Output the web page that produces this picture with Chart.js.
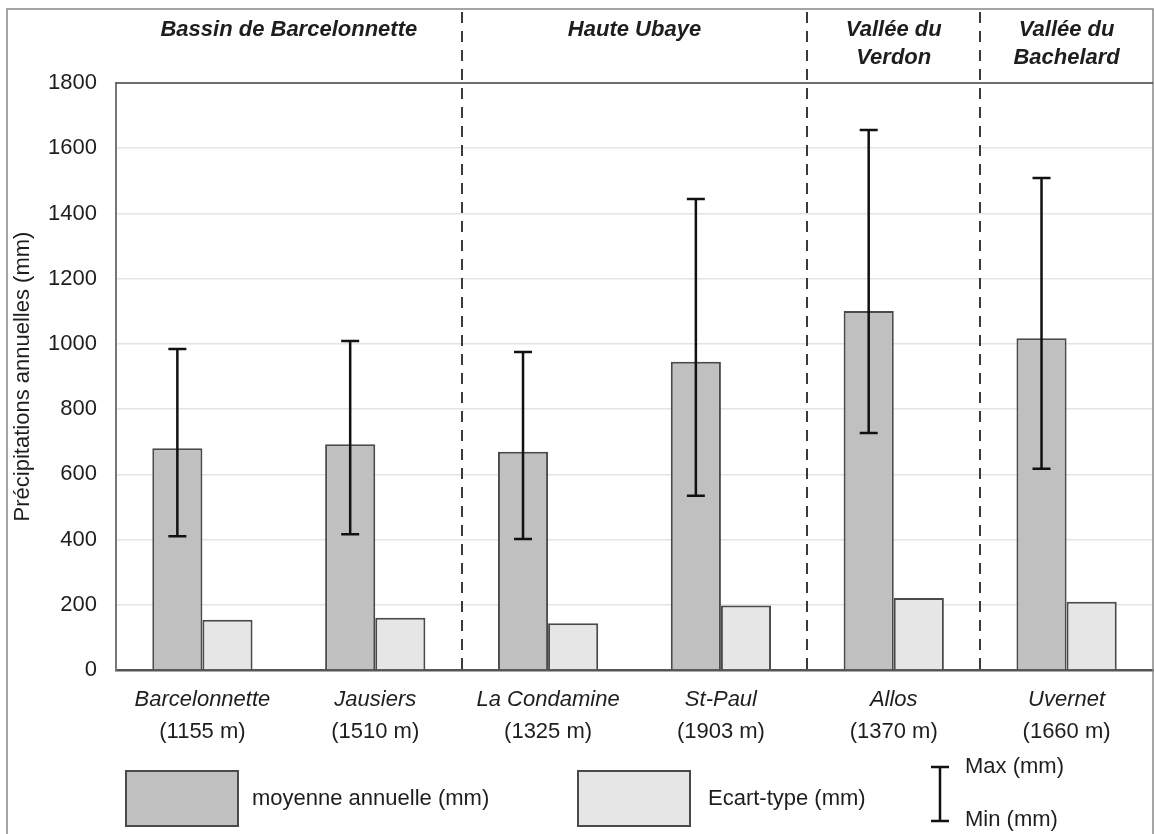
<!DOCTYPE html>
<html>
<head>
<meta charset="utf-8">
<script src="https://cdn.jsdelivr.net/npm/chart.js@4.4.1/dist/chart.umd.min.js"></script>
<style>
  html, body { margin: 0; padding: 0; background: #fff; }
</style>
</head>
<body>
<canvas id="chart" width="1154" height="834"></canvas>
<script>
// data
const stations = ["Barcelonnette", "Jausiers", "La Condamine", "St-Paul", "Allos", "Uvernet"];
const altitudes = ["(1155 m)", "(1510 m)", "(1325 m)", "(1903 m)", "(1370 m)", "(1660 m)"];
const moyenne = [680, 692, 669, 945, 1101, 1017];
const ecartType = [154, 160, 143, 198, 221, 209];
const maxVals = [984, 1009, 975, 1444, 1656, 1509];
const minVals = [410, 416, 402, 534, 727, 617];
const groupNames = [["Bassin de Barcelonnette"], ["Haute Ubaye"], ["Vallée du", "Verdon"], ["Vallée du", "Bachelard"]];
const groupFirst = [0, 2, 4, 5];
const groupLast = [1, 3, 4, 5];

const FONT = "'Liberation Sans', Arial, sans-serif";
const INK = '#1e1e1e';

Chart.defaults.font.family = FONT;
Chart.defaults.color = INK;

// min / max whiskers on the mean bars
const errorBars = {
  id: 'errorBars',
  afterDatasetsDraw(chart) {
    const ctx = chart.ctx;
    const y = chart.scales.y;
    const meta = chart.getDatasetMeta(0);
    ctx.save();
    ctx.strokeStyle = '#111';
    ctx.lineWidth = 2.5;
    meta.data.forEach((bar, i) => {
      const top = y.getPixelForValue(maxVals[i]);
      const bot = y.getPixelForValue(minVals[i]);
      ctx.beginPath();
      ctx.moveTo(bar.x, top); ctx.lineTo(bar.x, bot);
      ctx.moveTo(bar.x - 9, top); ctx.lineTo(bar.x + 9, top);
      ctx.moveTo(bar.x - 9, bot); ctx.lineTo(bar.x + 9, bot);
      ctx.stroke();
    });
    ctx.restore();
  }
};

// region headers, dashed separators, frame and legend
const decor = {
  id: 'decor',
  afterDraw(chart) {
    const ctx = chart.ctx;
    const x = chart.scales.x;
    const area = chart.chartArea;
    ctx.save();

    // outer frame
    ctx.strokeStyle = '#888';
    ctx.lineWidth = 1.5;
    ctx.beginPath();
    ctx.moveTo(7, 840); ctx.lineTo(7, 9); ctx.lineTo(1153, 9); ctx.lineTo(1153, 840);
    ctx.stroke();

    // top border of the plot
    ctx.strokeStyle = '#444';
    ctx.lineWidth = 1.5;
    ctx.beginPath();
    ctx.moveTo(area.left, area.top); ctx.lineTo(1153, area.top);
    ctx.stroke();

    // dashed separators between regions
    ctx.strokeStyle = '#3a3a3a';
    ctx.lineWidth = 2;
    ctx.setLineDash([11, 8]);
    for (let g = 1; g < groupFirst.length; g++) {
      const px = Math.round(x.getPixelForValue(groupFirst[g] - 0.5));
      ctx.beginPath();
      ctx.moveTo(px, 12); ctx.lineTo(px, area.bottom);
      ctx.stroke();
    }
    ctx.setLineDash([]);

    // region headers
    ctx.fillStyle = INK;
    ctx.font = 'italic bold 22px ' + FONT;
    ctx.textAlign = 'center';
    ctx.textBaseline = 'middle';
    groupNames.forEach((lines, g) => {
      const cx = (x.getPixelForValue(groupFirst[g] - 0.5) + x.getPixelForValue(groupLast[g] + 0.5)) / 2;
      lines.forEach((t, k) => ctx.fillText(t, cx, 30 + k * 27.5));
    });

    // legend
    const ds = chart.data.datasets;
    const boxes = [[126, 252], [578, 708]];
    ctx.font = '22px ' + FONT;
    ctx.textAlign = 'left';
    ds.forEach((d, i) => {
      const [bx, tx] = boxes[i];
      ctx.fillStyle = d.backgroundColor;
      ctx.fillRect(bx, 771, 112, 55);
      ctx.strokeStyle = '#4a4a4a';
      ctx.lineWidth = 2;
      ctx.strokeRect(bx, 771, 112, 55);
      ctx.fillStyle = INK;
      ctx.fillText(d.label, tx, 799);
    });
    ctx.strokeStyle = '#111';
    ctx.lineWidth = 2.5;
    ctx.beginPath();
    ctx.moveTo(940, 767); ctx.lineTo(940, 821);
    ctx.moveTo(931, 767); ctx.lineTo(949, 767);
    ctx.moveTo(931, 821); ctx.lineTo(949, 821);
    ctx.stroke();
    ctx.fillStyle = INK;
    ctx.fillText('Max (mm)', 965, 767);
    ctx.fillText('Min (mm)', 965, 820);

    ctx.restore();
  }
};

new Chart(document.getElementById('chart'), {
  type: 'bar',
  data: {
    labels: stations,
    datasets: [
      { label: 'moyenne annuelle (mm)', data: moyenne, backgroundColor: '#c0c0c0', borderColor: '#4a4a4a', borderWidth: 2 },
      { label: 'Ecart-type (mm)', data: ecartType, backgroundColor: '#e6e6e6', borderColor: '#4a4a4a', borderWidth: 2 }
    ]
  },
  options: {
    responsive: false,
    animation: false,
    devicePixelRatio: 1,
    layout: { padding: { top: 83, right: 1, bottom: 74, left: 0 } },
    categoryPercentage: 0.58,
    barPercentage: 1,
    plugins: { legend: { display: false }, tooltip: { enabled: false } },
    scales: {
      x: {
        offset: true,
        grid: { display: false, drawTicks: false },
        border: { display: true, color: '#555', width: 2.5 },
        // mirror keeps the italic names from being clipped to the short axis box;
        // the negative padding then pushes them back below the baseline
        ticks: { font: { size: 22, style: 'italic' }, mirror: true, padding: -43, maxRotation: 0, autoSkip: false },
        afterFit: s => { s.height = 30; }
      },
      x2: {
        type: 'category',
        labels: altitudes,
        position: 'bottom',
        offset: true,
        grid: { display: false, drawTicks: false },
        border: { display: false },
        ticks: { font: { size: 22 }, padding: 19, maxRotation: 0, autoSkip: false },
        afterFit: s => { s.height = 60; }
      },
      y: {
        min: 0,
        max: 1800,
        ticks: { stepSize: 200, font: { size: 22 }, padding: 19, callback: v => String(v) },
        grid: { color: '#e4e4e4', lineWidth: 1.5, drawTicks: false },
        border: { display: true, color: '#777', width: 2 },
        title: { display: true, text: 'Précipitations annuelles (mm)', font: { size: 22 }, padding: { top: 10, bottom: 0 } },
        afterFit: s => { s.width = 116; }
      }
    }
  },
  plugins: [errorBars, decor]
});
</script>
</body>
</html>
